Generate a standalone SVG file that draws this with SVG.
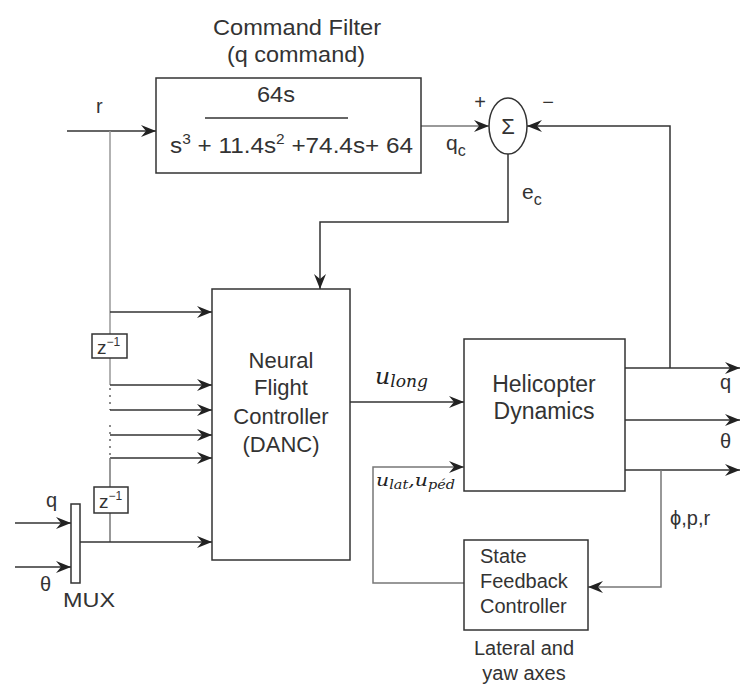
<svg xmlns="http://www.w3.org/2000/svg" width="741" height="684" viewBox="0 0 741 684">
<defs>
<marker id="ah" viewBox="-15 -7 16 14" refX="0" refY="0" markerWidth="16" markerHeight="14" markerUnits="userSpaceOnUse" orient="auto">
<path d="M0,0 L-15,-6 L-10,0 L-15,6 Z" fill="#222"/>
</marker>
<style>
text{font-family:"Liberation Sans",Arial,sans-serif;fill:#333}
.t22{font-size:22px}
.t20{font-size:20px}
.m{font-family:"DejaVu Serif","Liberation Serif",serif;font-style:italic;fill:#222}
.box{fill:#fff;stroke:#333;stroke-width:1.5}
.ln{fill:none;stroke:#333;stroke-width:1.5}
.lg{fill:none;stroke:#999;stroke-width:1.5}
.lm{fill:none;stroke:#777;stroke-width:1.5}
.arr{marker-end:url(#ah)}
.dot{fill:none;stroke:#666;stroke-width:1.5;stroke-dasharray:2 5}
</style>
</defs>
<rect width="741" height="684" fill="#fff"/>

<g id="connectors">
<path class="ln arr" d="M67,131 H156"/>
<path class="lg" d="M110,131 V334 M110,358 V385"/>
<path class="dot" d="M110,388 V410 M110,425 V456"/>
<path class="ln arr" d="M110,312 H212"/>
<path class="ln arr" d="M110,385 H212"/>
<path class="ln arr" d="M110,410 H212"/>
<path class="ln arr" d="M110,435 H212"/>
<path class="ln arr" d="M110,458 H212"/>
<path class="lm" d="M110,458 V487 M110,513 V542"/>
<path class="ln arr" d="M80,542 H212"/>
<path class="ln arr" d="M15,523 H71"/>
<path class="ln arr" d="M15,567 H71"/>
<path class="lm arr" d="M421,126 H489"/>
<path class="ln arr" d="M508,154 V222 H320 V289"/>
<path class="ln arr" d="M670,368 V126 H527"/>
<path class="ln arr" d="M350,402 H464"/>
<path class="lm arr" d="M464,583 H373 V467 H464"/>
<path class="ln arr" d="M625,368 H740"/>
<path class="ln arr" d="M625,420 H740"/>
<path class="ln arr" d="M625,470 H740"/>
<path class="lm arr" d="M661,470 V587 H588"/>
</g>

<g id="command-filter">
<text class="t22" x="297" y="35" text-anchor="middle" textLength="168" lengthAdjust="spacingAndGlyphs">Command Filter</text>
<text class="t22" x="296" y="62" text-anchor="middle" textLength="138" lengthAdjust="spacingAndGlyphs">(q command)</text>
<rect class="box" x="156" y="78" width="265" height="95"/>
<text class="t22" x="276" y="102" text-anchor="middle" textLength="38" lengthAdjust="spacingAndGlyphs">64s</text>
<line x1="205" y1="118" x2="348" y2="118" stroke="#333" stroke-width="1.5"/>
<text class="t22" x="170" y="153" textLength="243" lengthAdjust="spacingAndGlyphs">s<tspan font-size="14" dy="-9">3</tspan><tspan dy="9"> + 11.4s</tspan><tspan font-size="14" dy="-9">2</tspan><tspan dy="9"> +74.4s+ 64</tspan></text>
</g>

<g id="r-label"><text class="t20" x="96" y="113">r</text></g>

<g id="sum">
<ellipse cx="508" cy="126" rx="19" ry="28" fill="#fff" stroke="#333" stroke-width="1.5"/>
<text x="508" y="134" font-size="22" text-anchor="middle" font-family="DejaVu Serif,serif">Σ</text>
<text x="480" y="109" font-size="20" text-anchor="middle">+</text>
<text x="548" y="109" font-size="20" text-anchor="middle">−</text>
<text x="446" y="150" font-size="21">q<tspan font-size="16" dy="6">c</tspan></text>
<text x="522" y="199" font-size="21">e<tspan font-size="16" dy="6">c</tspan></text>
</g>

<g id="delay1">
<rect class="box" x="92" y="334" width="35" height="24"/>
<text x="97" y="354" font-size="19">z<tspan font-size="12" dy="-8">−1</tspan></text>
</g>
<g id="delay2">
<rect class="box" x="94" y="487" width="34" height="26"/>
<text x="99" y="508" font-size="19">z<tspan font-size="12" dy="-8">−1</tspan></text>
</g>

<g id="mux">
<rect class="box" x="71" y="504" width="9" height="79"/>
<text class="t20" x="46" y="507">q</text>
<text class="t20" x="40" y="591">θ</text>
<text class="t20" x="63" y="607" textLength="52" lengthAdjust="spacingAndGlyphs">MUX</text>
</g>

<g id="neural-controller">
<rect class="box" x="212" y="289" width="138" height="271"/>
<text class="t22" x="281" y="368" text-anchor="middle">Neural</text>
<text class="t22" x="281" y="395" text-anchor="middle">Flight</text>
<text class="t22" x="281" y="424" text-anchor="middle">Controller</text>
<text class="t22" x="281" y="452" text-anchor="middle">(DANC)</text>
</g>

<g id="signals">
<text class="m" x="375" y="384" font-size="22" textLength="53" lengthAdjust="spacingAndGlyphs">u<tspan font-size="16" dy="3">long</tspan></text>
<text class="m" x="376" y="486" font-size="17" textLength="79" lengthAdjust="spacingAndGlyphs">u<tspan font-size="12" dy="3">lat</tspan><tspan dy="-3">,u</tspan><tspan font-size="12" dy="3">péd</tspan></text>
</g>

<g id="helicopter-dynamics">
<rect class="box" x="464" y="339" width="161" height="152"/>
<text x="544" y="392" font-size="23" text-anchor="middle">Helicopter</text>
<text x="544" y="419" font-size="23" text-anchor="middle">Dynamics</text>
</g>

<g id="outputs">
<text class="t20" x="720" y="389">q</text>
<text class="t20" x="720" y="448">θ</text>
<text class="t20" x="670" y="525">ϕ,p,r</text>
</g>

<g id="state-feedback">
<rect class="box" x="464" y="540" width="124" height="90"/>
<text class="t20" x="480" y="563">State</text>
<text class="t20" x="480" y="588">Feedback</text>
<text class="t20" x="480" y="613">Controller</text>
<text class="t20" x="524" y="655" text-anchor="middle">Lateral and</text>
<text class="t20" x="524" y="680" text-anchor="middle">yaw axes</text>
</g>
</svg>
